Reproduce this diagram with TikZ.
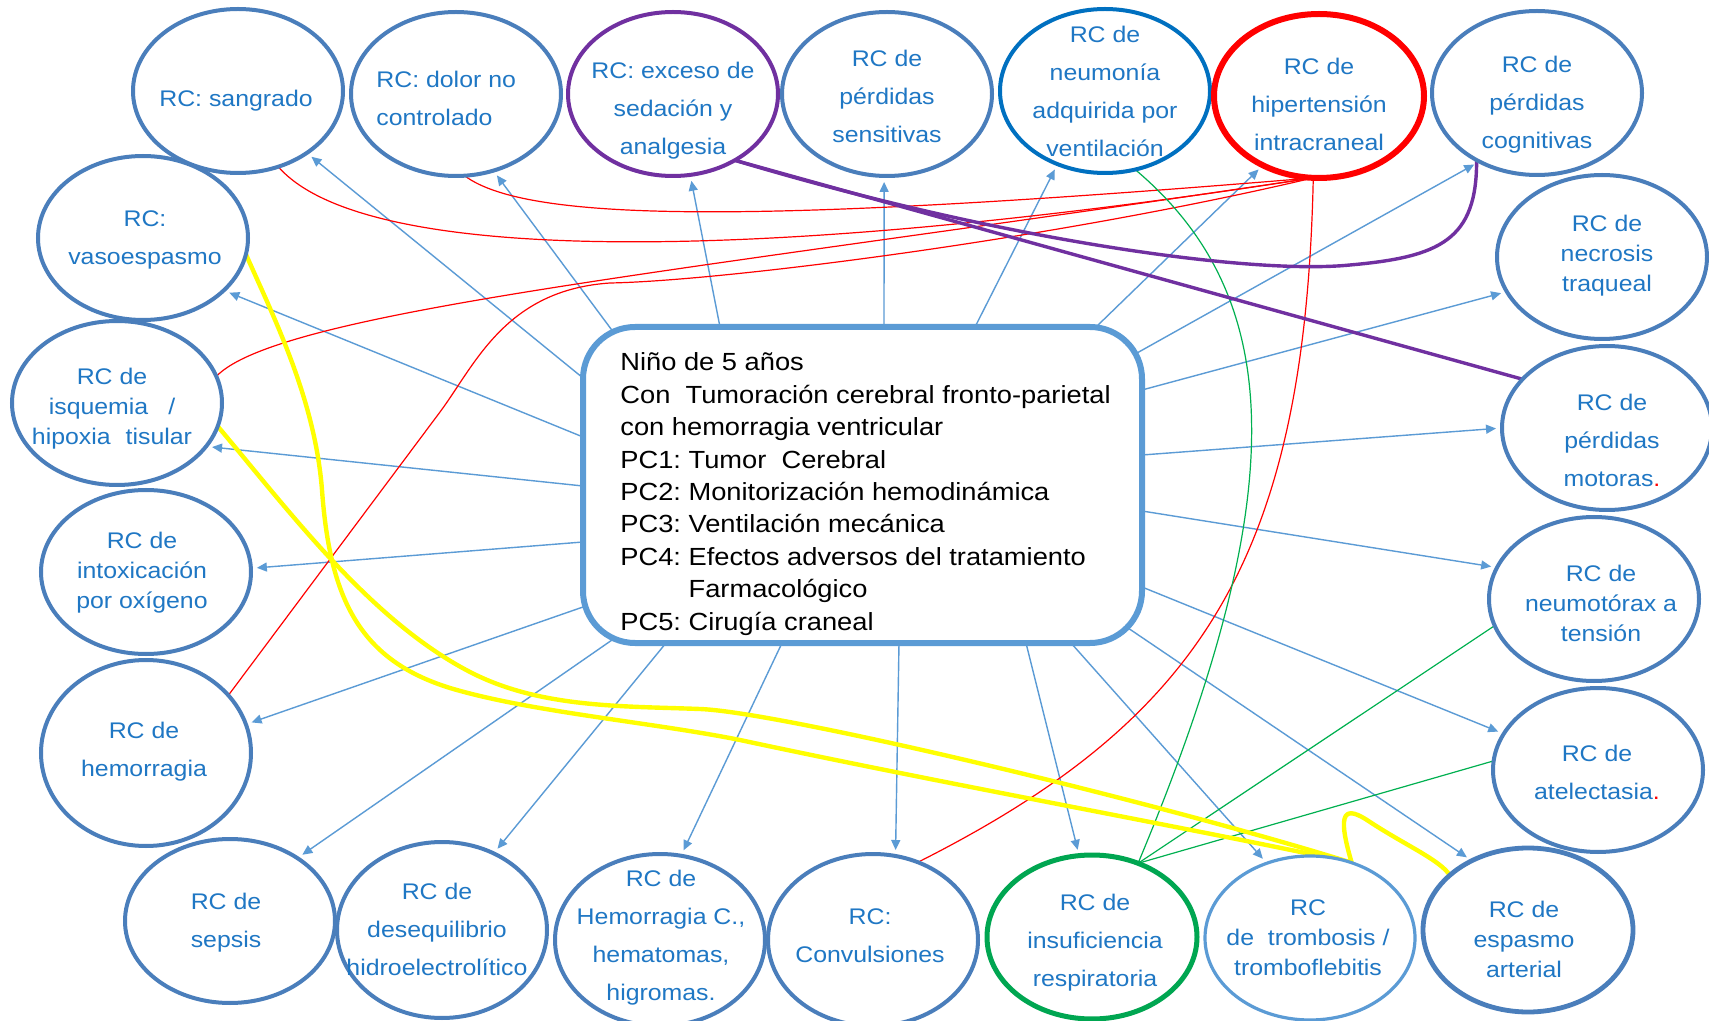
\documentclass[tikz,border=0pt]{standalone}
\usepackage{fontspec}
\setmainfont{Liberation Sans}[FakeStretch=1.1]
\usetikzlibrary{shapes.geometric,arrows.meta}
\pgfdeclarelayer{bg}
\pgfsetlayers{bg,main}
\definecolor{ellblue}{RGB}{74,126,187}
\definecolor{txtblue}{RGB}{31,119,196}
\definecolor{arrblue}{RGB}{91,155,213}
\definecolor{boxblue}{RGB}{91,155,213}
\definecolor{pneublue}{RGB}{0,112,192}
\definecolor{hipred}{RGB}{255,0,0}
\definecolor{purp}{RGB}{112,48,160}
\definecolor{grn}{RGB}{0,166,81}
\definecolor{grnl}{RGB}{0,176,80}
\definecolor{yel}{RGB}{255,255,0}
\frenchspacing
\begin{document}
\begin{tikzpicture}[x=0.5pt,y=-0.5pt,
  rcell/.style={ellipse, draw=ellblue, line width=2pt, fill=white, minimum width=105pt, minimum height=82pt, inner sep=0pt, outer sep=0pt},
  rctext/.style={text=txtblue, align=center, font=\fontsize{11.3}{19}\selectfont, inner sep=0pt},
  rctight/.style={rctext, font=\fontsize{11.3}{15}\selectfont},
  arr/.style={draw=arrblue, line width=0.7pt, -{Triangle[length=5pt,width=4.5pt]}, shorten >=3pt},
  redl/.style={draw=hipred, line width=0.6pt},
  grnline/.style={draw=grnl, line width=0.6pt},
  purline/.style={draw=purp, line width=1.7pt},
  yelline/.style={draw=yel, line width=2.2pt, line join=round}]
\begin{pgfonlayer}{bg}
\fill[white] (0,0) rectangle (1709,1021);
\end{pgfonlayer}
\useasboundingbox (0,0) rectangle (1709,1021);

% ellipses
\node[rcell] (n1) at (238,91) {};
\node[rcell] (n2) at (456,94) {};
\node[rcell, draw=purp] (n3) at (673,94) {};
\node[rcell] (n4) at (887,94) {};
\node[rcell, draw=pneublue] (n5) at (1105,91) {};
\node[rcell, draw=hipred, line width=3pt] (n6) at (1319,96) {};
\node[rcell] (n7) at (1537,93) {};
\node[rcell] (n8) at (143,238) {};
\node[rcell] (n9) at (117,403) {};
\node[rcell] (n10) at (146,572) {};
\node[rcell, minimum height=93pt] (n11) at (146,753) {};
\node[rcell] (n12) at (230,921) {};
\node[rcell, minimum height=88pt] (n13) at (442,930) {};
\node[rcell, minimum height=86pt] (n14) at (660,940) {};
\node[rcell, minimum height=86pt] (n15) at (873,940) {};
\node[rcell, draw=grn, line width=2.5pt] (n16) at (1092,937) {};
\node[rcell, draw=arrblue, line width=1.6pt] (n17) at (1310,938) {};
\node[rcell, line width=2.4pt] (n18) at (1528,930) {};
\node[rcell] (n19) at (1598,770) {};
\node[rcell] (n20) at (1594,599) {};
\node[rcell] (n21) at (1607,428) {};
\node[rcell] (n22) at (1602,257) {};

% texts
\node[rctext] (t1) at (236,101) {RC: sangrado};
\node[rctext, align=left, anchor=west] (t2) at (376,98) {RC: dolor no\\controlado};
\node[rctext] (t3) at (673,111) {RC: exceso de\\sedación y\\analgesia};
\node[rctext] (t4) at (887,96) {RC de\\pérdidas\\sensitivas};
\node[rctext] (t5) at (1105,91) {RC de\\neumonía\\adquirida por\\ventilación};
\node[rctext] (t6) at (1319,104) {RC de\\hipertensión\\intracraneal};
\node[rctext] (t7) at (1537,105) {RC de\\pérdidas\\cognitivas};
\node[rctext] (t8) at (145,240) {RC:\\vasoespasmo};
\node[rctight] (t9) at (112,409) {RC de\\isquemia\hspace{10pt}/\\hipoxia\hspace{4pt} tisular};
\node[rctight] (t10) at (142,573) {RC de\\intoxicación\\por oxígeno};
\node[rctext] (t11) at (144,752) {RC de\\hemorragia};
\node[rctext] (t12) at (226,923) {RC de\\sepsis};
\node[rctext] (t13) at (437,929) {RC de\\desequilibrio\\hidroelectrolítico};
\node[rctext] (t14) at (661,938) {RC de\\Hemorragia C.,\\hematomas,\\higromas.};
\node[rctext] (t15) at (870,936) {RC:\\Convulsiones};
\node[rctext] (t16) at (1095,943) {RC de\\insuficiencia\\respiratoria};
\node[rctight] (t17) at (1308,938) {RC\\de\ \ trombosis /\\tromboflebitis};
\node[rctight] (t18) at (1524,939) {RC de\\espasmo\\arterial};
\node[rctext] (t19) at (1597,772) {RC de\\atelectasia{\color{red}.}};
\node[rctight] (t20) at (1601,603) {RC de\\neumotórax a\\tensión};
\node[rctext] (t21) at (1612,440) {RC de\\pérdidas\\motoras{\color{red}.}};
\node[rctight] (t22) at (1607,256) {RC de\\necrosis\\traqueal};

% central box
\node[draw=boxblue, line width=3pt, rounded corners=26pt, fill=white, minimum width=279.5pt, minimum height=158pt, inner sep=0pt, outer sep=0pt] (box) at (862.5,485) {};
\node[anchor=west, align=left, inner sep=0pt, font=\fontsize{12.4}{16.2}\selectfont] (boxtext) at (620,494)
 {Niño de 5 años\\
  Con\ \ Tumoración cerebral fronto-parietal\\
  con hemorragia ventricular\\
  PC1: Tumor\ \ Cerebral\\
  PC2: Monitorización hemodinámica\\
  PC3: Ventilación mecánica\\
  PC4: Efectos adversos del tratamiento\\
  \phantom{PC4: }Farmacológico\\
  PC5: Cirugía craneal};

\begin{pgfonlayer}{bg}
% blue arrows
\draw[arr] (box.west |- 0,378) -- (n1.-42.6);
\draw[arr] ([shift={(31,6)}]box.north west) -- (n2.-64);
\draw[arr] (box.north -| 720,0) -- (n3.-78.4);
\draw[arr] (box.north -| 884,0) -- (n4.-92);
\draw[arr] (box.north -| 975,0) -- (n5.-123.5);
\draw[arr] (box.north -| 1096,0) -- (n6.-129.9);
\draw[arr] ([shift={(-5,26)}]box.north east) -- (n7.-130.4);
\draw[arr] (box.east |- 0,390) -- (n22.-160.7);
\draw[arr] (box.east |- 0,455) -- (n21.180);
\draw[arr] (box.east |- 0,511) -- (n20.162.4);
\draw[arr] (box.east |- 0,587) -- (n19.159.9);
\draw[arr] ([shift={(-14,-15)}]box.south east) -- (n18.129.2);
\draw[arr] (box.south -| 1071,0) -- (n17.120.5);
\draw[arr] (box.south -| 1026,0) -- (n16.99);
\draw[arr] (box.south -| 899,0) -- (n15.75.5);
\draw[arr] (box.south -| 782,0) -- (n14.76.7);
\draw[arr] (box.south -| 666,0) -- (n13.56.5);
\draw[arr] ([shift={(29,-3)}]box.south west) -- (n12.43.3);
\draw[arr] (box.west |- 0,607) -- (n11.16.2);
\draw[arr] (box.west |- 0,542) -- (n10.2.5);
\draw[arr] (box.west |- 0,486) -- (n9.-26.8);
\draw[arr] (box.west |- 0,437) -- (n8.-33.1);

% red lines from hipertension intracraneal
\draw[redl] (n1.-62.6) .. controls (370,272) and (800,258) .. (n6.-94);
\draw[redl] (n2.-84) .. controls (530,225) and (780,222) .. (n6.-94);
\draw[redl] (n9.15.7) .. controls (280,310) and (700,270) .. (n6.-94);
\draw[redl] (n11.35.9) -- (440,412) .. controls (475,365) and (505,290) .. (610,283)
   .. controls (720,281) and (1050,240) .. (n6.-94);
\draw[redl] (n6.-94) .. controls (1305,560) and (1200,720) .. (n15.60.6);

% green lines from insuficiencia respiratoria
\draw[grnline] (n5.-69) .. controls (1290,300) and (1290,500) .. (n16.58);
\draw[grnline] (n16.58) -- (n20.195.9);
\draw[grnline] (n16.58) -- (n19.175.5);

% purple lines from exceso de sedacion
\draw[purline] (n3.-47.6) -- (n21.150);
\draw[purline] (n3.-47.6) .. controls (1000,240) and (1250,275) .. (1350,265)
   .. controls (1440,257) and (1477,240) .. (n7.-132.8);

% yellow lines
\draw[yelline] (n8.-9.3) .. controls (275,320) and (315,400) .. (322,490)
   .. controls (330,600) and (360,660) .. (450,688)
   .. controls (530,712) and (650,722) .. (740,740)
   .. controls (950,785) and (1200,830) .. (n17.61.3);
\draw[yelline] (n9.-13.9) .. controls (290,512) and (370,620) .. (470,672)
   .. controls (540,708) and (620,706) .. (700,709)
   .. controls (780,712) and (1150,800) .. (n17.61.3)
   .. controls (1336,810) and (1345,805) .. (1370,822)
   .. controls (1405,845) and (1440,860) .. (n18.145.8);
\end{pgfonlayer}
\end{tikzpicture}
\end{document}
